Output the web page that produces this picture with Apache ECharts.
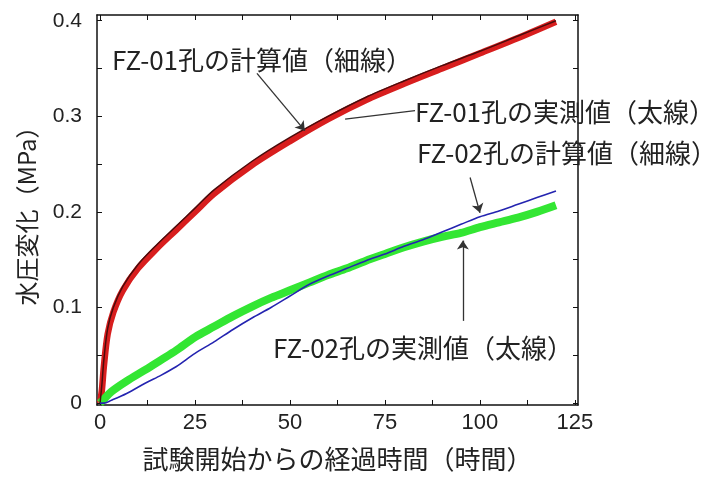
<!DOCTYPE html>
<html>
<head>
<meta charset="utf-8">
<script src="https://cdn.jsdelivr.net/npm/echarts@6/dist/echarts.min.js"></script>
<style>
  html, body { margin: 0; padding: 0; background: #fff; }
  #chart { width: 724px; height: 477px; }
</style>
</head>
<body>
<div id="chart"></div>
<script>
// elapsed time (h) and pressure change (MPa)
var fz01Time = [0, 0.5, 1, 2, 3.5, 6, 10, 15, 20, 25, 30, 40, 50, 60, 70, 80, 90, 100, 110, 120];
var fz01Measured = [0, 0.014, 0.038, 0.072, 0.095, 0.118, 0.141, 0.162, 0.181, 0.200, 0.219, 0.249, 0.274, 0.297, 0.317, 0.334, 0.350, 0.366, 0.382, 0.399];
var fz01Calc = [0, 0.020, 0.045, 0.078, 0.100, 0.122, 0.145, 0.166, 0.185, 0.204, 0.223, 0.253, 0.278, 0.300, 0.320, 0.337, 0.353, 0.368, 0.384, 0.400];

var fz02Time = [0, 1, 3, 7, 12, 16, 20, 25, 30, 35, 40, 45, 50, 55, 60, 65, 70, 75, 80, 85, 90, 95, 100, 105, 110, 115, 120];
var fz02Measured = [0, 0.004, 0.012, 0.023, 0.035, 0.045, 0.055, 0.069, 0.080, 0.091, 0.101, 0.110, 0.118, 0.126, 0.134, 0.141, 0.149, 0.156, 0.163, 0.169, 0.174, 0.178, 0.184, 0.189, 0.194, 0.200, 0.207];
var fz02Calc = [0, 0.000, 0.003, 0.010, 0.021, 0.029, 0.038, 0.052, 0.064, 0.077, 0.089, 0.100, 0.112, 0.124, 0.133, 0.141, 0.149, 0.156, 0.164, 0.171, 0.179, 0.187, 0.195, 0.201, 0.208, 0.215, 0.222];

var xLabels = [0, 25, 50, 75, 100, 125];
var xTicks = [0, 12.5, 25, 37.5, 50, 62.5, 75, 87.5, 100, 112.5, 125];
var yLabels = [0, 0.1, 0.2, 0.3, 0.4];
var yTicks = [0, 0.05, 0.1, 0.15, 0.2, 0.25, 0.3, 0.35, 0.4];

// annotation leader lines: [from, to] in data coords, true = arrow head
var leaders = [
    [[41.3, 0.345], [53.9, 0.285], true],
    [[64.5, 0.297], [82.9, 0.306], false],
    [[97.4, 0.236], [100.0, 0.199], true],
    [[95.5, 0.086], [95.5, 0.170], true]
];

var zip = function (xs, ys) {
    var out = [];
    for (var i = 0; i < xs.length; i++) {
        out.push([xs[i], ys[i]]);
    }
    return out;
};

var font = '"Noto Sans CJK JP", "Noto Sans", sans-serif';
var axisLine = { show: true, onZero: false, lineStyle: { color: '#111', width: 1.5 } };

var markData = leaders.map(function (l) {
    return [
        { coord: l[0], symbol: 'none' },
        { coord: l[1], symbol: l[2] ? 'arrow' : 'none' }
    ];
});

var texts = [
    ['FZ-01孔の計算値（細線）', 112, 60],
    ['FZ-01孔の実測値（太線）', 415, 112],
    ['FZ-02孔の計算値（細線）', 417, 153],
    ['FZ-02孔の実測値（太線）', 273, 348]
];

const chart = echarts.init(document.getElementById('chart'));

const option = {
    animation: false,
    backgroundColor: '#fff',
    grid: { left: 97, right: 146, top: 15, bottom: 67, containLabel: false },
    xAxis: [{
        type: 'value',
        position: 'bottom',
        min: -0.8,
        max: 125.8,
        name: '試験開始からの経過時間（時間）',
        nameLocation: 'middle',
        nameGap: 41,
        nameTextStyle: { fontFamily: font, fontSize: 26, color: '#222' },
        axisLine: axisLine,
        axisTick: { show: true, inside: true, length: 5, customValues: xTicks, lineStyle: { color: '#111' } },
        axisLabel: { customValues: xLabels, fontFamily: 'Liberation Sans, Arial, sans-serif', fontSize: 22, color: '#222', margin: 7 },
        splitLine: { show: false }
    }, {
        type: 'value',
        position: 'top',
        min: -0.8,
        max: 125.8,
        axisLine: axisLine,
        axisTick: { show: true, inside: true, length: 5, customValues: xTicks, lineStyle: { color: '#111' } },
        axisLabel: { show: false },
        splitLine: { show: false }
    }],
    yAxis: [{
        type: 'value',
        position: 'left',
        min: -0.002,
        max: 0.406,
        name: '水圧変化（MPa）',
        nameLocation: 'middle',
        nameRotate: 90,
        nameGap: 58,
        nameTextStyle: { fontFamily: font, fontSize: 24, color: '#222' },
        axisLine: axisLine,
        axisTick: { show: true, inside: true, length: 5, customValues: yTicks, lineStyle: { color: '#111' } },
        axisLabel: { customValues: yLabels, fontFamily: 'Liberation Sans, Arial, sans-serif', fontSize: 21, color: '#222', margin: 15 },
        splitLine: { show: false }
    }, {
        type: 'value',
        position: 'right',
        min: -0.002,
        max: 0.406,
        axisLine: axisLine,
        axisTick: { show: true, inside: true, length: 5, customValues: yTicks, lineStyle: { color: '#111' } },
        axisLabel: { show: false },
        splitLine: { show: false }
    }],
    series: [
        {
            name: 'FZ-01実測値',
            type: 'line',
            data: zip(fz01Time, fz01Measured),
            smooth: 0.3,
            showSymbol: false,
            lineStyle: { color: '#d81e1e', width: 6.5 },
            z: 2
        },
        {
            name: 'FZ-01計算値',
            type: 'line',
            data: zip(fz01Time, fz01Calc),
            smooth: 0.3,
            showSymbol: false,
            lineStyle: { color: '#4a0c0c', width: 1.5 },
            z: 3
        },
        {
            name: 'FZ-02実測値',
            type: 'line',
            data: zip(fz02Time, fz02Measured),
            smooth: 0.3,
            showSymbol: false,
            lineStyle: { color: '#33e633', width: 8 },
            z: 2
        },
        {
            name: 'FZ-02計算値',
            type: 'line',
            data: zip(fz02Time, fz02Calc),
            smooth: 0.3,
            showSymbol: false,
            lineStyle: { color: '#2424b0', width: 1.6 },
            z: 3,
            markLine: {
                silent: true,
                animation: false,
                symbolSize: 9,
                label: { show: false },
                lineStyle: { type: 'solid', color: '#333', width: 1.3 },
                data: markData
            }
        }
    ],
    graphic: texts.map(function (t) {
        return {
            type: 'text',
            z: 10,
            style: {
                text: t[0],
                x: t[1],
                y: t[2],
                fill: '#222',
                font: '26px ' + font,
                textVerticalAlign: 'middle',
                verticalAlign: 'middle'
            }
        };
    })
};

option && chart.setOption(option);
</script>
</body>
</html>
